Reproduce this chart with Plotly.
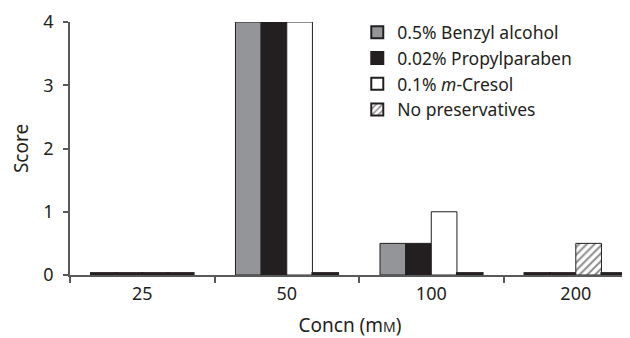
import plotly.graph_objects as go

categories = ["25", "50", "100", "200"]
series_names = ["0.5% Benzyl alcohol", "0.02% Propylparaben", "0.1% <i>m</i>-Cresol", "No preservatives"]
benzyl = [0.03, 4, 0.5, 0.03]
propyl = [0.03, 4, 0.5, 0.03]
cresol = [0.03, 4, 1, 0.5]
nopres = [0.03, 0.03, 0.03, 0.03]
y_ticks = [0, 1, 2, 3, 4]

INK = "#231f20"
GRAY = "#939598"
AXIS = "#58595b"
FONT = "Noto Sans"


def outline(values):
    # near-zero bars print as a solid dark rule in the reference
    return [2.0 if v < 0.1 else 1 for v in values]


HATCH = dict(fgcolor=INK, bgcolor="white", size=5.5, solidity=0.38)

fig = go.Figure()
fig.add_bar(x=categories, y=benzyl, name=series_names[0],
            marker=dict(color=GRAY, line=dict(color=INK, width=outline(benzyl))))
fig.add_bar(x=categories, y=propyl, name=series_names[1],
            marker=dict(color=INK, line=dict(color=INK, width=outline(propyl))))
fig.add_bar(x=categories, y=cresol, name=series_names[2],
            marker=dict(color="white", line=dict(color=INK, width=outline(cresol)),
                        pattern=dict(shape=["", "", "", "/"], **HATCH)))
fig.add_bar(x=categories, y=nopres, name=series_names[3],
            marker=dict(color="white", line=dict(color=INK, width=outline(nopres)),
                        pattern=dict(shape="/", **HATCH)))

# page body has an 8px margin; compensate so the plot lands where the reference's does
fig.update_layout(
    width=622, height=330,
    margin=dict(l=62, r=0, t=14, b=63),
    paper_bgcolor="white", plot_bgcolor="white",
    barmode="group", bargap=0.29, bargroupgap=0,
    font=dict(family=FONT, size=18, color=INK),
    showlegend=True,
    legend=dict(x=0.513, y=1.03, xanchor="left", yanchor="top",
                bgcolor="rgba(0,0,0,0)", font=dict(size=17.5),
                traceorder="normal", itemwidth=30),
)
fig.update_xaxes(
    range=[-0.5, 3.375], showline=True, linecolor=AXIS, linewidth=1.5,
    ticks="outside", tickson="boundaries", ticklen=6, tickcolor=AXIS, tickwidth=1.5,
    showgrid=False, zeroline=False, tickfont=dict(size=18), ticklabelstandoff=2,
    title=dict(text="Concn (m<span style='font-size:14px'>M</span>)", standoff=16,
               font=dict(size=19)),
)
fig.update_yaxes(
    range=[0, 4], tickvals=y_ticks, showline=True, linecolor=AXIS, linewidth=1.5,
    ticks="outside", ticklen=5, tickcolor=AXIS, tickwidth=1.5,
    showgrid=False, zeroline=False, tickfont=dict(size=18), ticklabelstandoff=6,
    title=dict(text="Score", standoff=10, font=dict(size=19)),
)

fig.write_html("out.html")
